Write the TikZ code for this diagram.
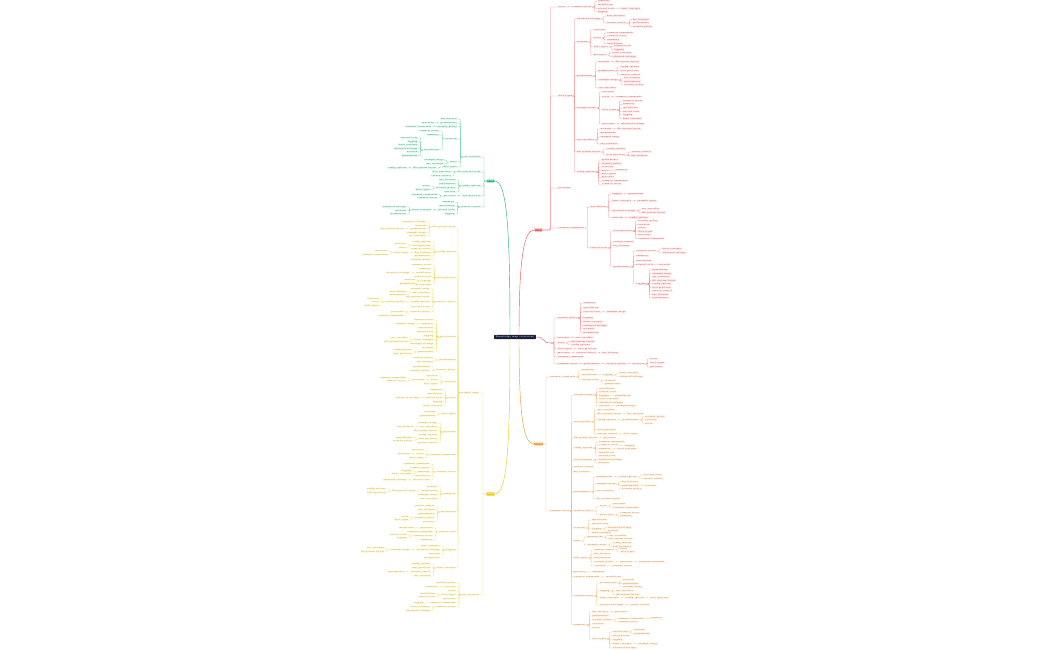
\documentclass[tikz,border=0pt]{standalone}
\usetikzlibrary{calc}

\definecolor{mmnavy}{HTML}{1B1F3B}
\definecolor{mmred}{HTML}{F0555A}
\definecolor{mmorange}{HTML}{F39C38}
\definecolor{mmyellow}{HTML}{EEC916}
\definecolor{mmgreen}{HTML}{22B878}

\newcounter{wd}
\newcommand{\wordpick}{%
  \pgfmathtruncatemacro\wdi{mod(\the\value{wd}*7,23)}%
  \ifcase\wdi overview\or basic concepts\or key features\or
  installation\or config options\or common commands\or example usage\or
  notes\or advanced settings\or performance\or related tools\or
  best practices\or common errors\or env variables\or
  data types\or network\or security policy\or logging\or version control\or
  summary\or file system layout\or processes\or
  permissions\fi}

% children to the right / to the left of a node
\newcommand{\rk}[3][5]{%
  \foreach \yy [count=\ii] in {#3} {%
    \stepcounter{wd}%
    \node[leaf=\bc, anchor=west] (#2-\ii) at ($(#2.east |- 0,\yy)+(#1,0)$) {\wordpick};
    \draw[link=\bc] (#2.east) -- ++({#1/2},0) |- (#2-\ii.west);
  }}
\newcommand{\lk}[3][5]{%
  \foreach \yy [count=\ii] in {#3} {%
    \stepcounter{wd}%
    \node[leaf=\bc, anchor=east] (#2-\ii) at ($(#2.west |- 0,\yy)+(-#1,0)$) {\wordpick};
    \draw[link=\bc] (#2.west) -- ++({-#1/2},0) |- (#2-\ii.east);
  }}

\tikzset{
  leaf/.style={fill=#1!12, text=#1!75!black, font=\fontsize{2.2}{2.6}\selectfont,
    inner xsep=0.6pt, inner ysep=0.4pt, rounded corners=0.4pt},
  link/.style={draw=#1!70, line width=0.25pt, rounded corners=0.8pt},
  trunk/.style={draw=#1, line width=0.45pt},
  badge/.style={fill=#1, text=white, font=\fontsize{2}{2.4}\selectfont\bfseries,
    inner xsep=0.8pt, inner ysep=0.6pt, rounded corners=0.4pt},
  rootbox/.style={fill=mmnavy, text=white, font=\fontsize{2.4}{2.8}\selectfont,
    inner xsep=1.5pt, inner ysep=1pt, rounded corners=0.6pt}
}

\begin{document}
\begin{tikzpicture}[x=1pt,y=-1pt]
\useasboundingbox (0,0) rectangle (1050,650);

\node[rootbox] (root) at (515,337) {Knowledge map (overview)};
\node[badge=mmgreen] (G) at (490.5,181) {Base};
\node[badge=mmred] (R) at (538.5,230) {Core};
\node[badge=mmorange] (O) at (538.5,444) {Tools};
\node[badge=mmyellow] (Y) at (490.5,494) {Apps};
\coordinate (Q) at (551,343);

\draw[trunk=mmgreen] ([xshift=-5pt]root.north) .. controls +(0,-110) and +(12,0) .. (G.east);
\draw[trunk=mmred] ([xshift=4pt]root.north) .. controls +(0,-80) and +(-10,0) .. (R.west);
\draw[trunk=mmorange] ([xshift=4pt]root.south) .. controls +(0,80) and +(-10,0) .. (O.west);
\draw[trunk=mmyellow] ([xshift=-5pt]root.south) .. controls +(0,110) and +(12,0) .. (Y.east);
\draw[trunk=mmred] (root.east) .. controls +(10,0) and +(-10,0) .. (Q);

% red
\def\bc{mmred}
\rk[15]{R}{7,96,188,228}
\rk{R-1}{7}
\rk{R-1-1}{1.5,5,8.5,12}
\rk{R-1-1-3}{8.5}
\rk[3]{R-2}{19,42,76,108,140,152,172}
\rk{R-2-1}{16,23}
\rk{R-2-1-2}{19.5,23,26.5}
\rk{R-2-2}{30,38,47,55}
\rk{R-2-2-2}{33,36.5,40,43.5}
\rk{R-2-2-3}{46,49.5}
\rk{R-2-2-4}{53,56.5}
\rk{R-2-3}{62,71,80,88}
\rk{R-2-3-1}{62}
\rk{R-2-3-2}{67,71,75}
\rk{R-2-3-3}{78,81.5,85}
\rk{R-2-4}{92,97,110,124}
\rk{R-2-4-2}{97}
\rk{R-2-4-3}{101,104.5,108,111.5,115,118.5}
\rk{R-2-4-4}{124}
\rk{R-2-5}{129,133,137,144}
\rk{R-2-5-1}{129}
\rk{R-2-6}{149,155}
\rk{R-2-6-2}{152,155.5}
\rk{R-2-7}{160,163.5,167,170.5,174,177.5,181,184.5}
\rk{R-2-7-4}{170.5}
\rk{R-4}{207,248}
\rk{R-4-1}{194,201,211,217.5}
\rk{R-4-1-1}{194}
\rk{R-4-1-2}{201}
\rk{R-4-1-3}{209,212.5}
\rk{R-4-1-4}{217.5}
\rk{R-4-2}{231,242,246,267}
\rk{R-4-2-1}{221,224.5,228,231.5,235,238.5}
\rk{R-4-2-4}{251,256,261,264.5,284}
\rk{R-4-2-4-1}{249,253}
\rk{R-4-2-4-4}{264.5}
\rk{R-4-2-4-5}{270,273.5,277,280.5,284,287.5,291,294.5,298}

\rk[6]{Q}{318,337.5,343,349,353,357,364}
\rk{Q-1}{303,308,312,318,322,325.5,329,332.5}
\rk{Q-1-3}{312}
\rk{Q-2}{337.5}
\rk{Q-3}{341.5,345}
\rk{Q-4}{349}
\rk{Q-5}{353}
\rk{Q-5-1}{353}
\rk{Q-7}{364}
\rk{Q-7-1}{364}
\rk{Q-7-1-1}{364}
\rk{Q-7-1-1-1}{359,363,367}

% orange
\def\bc{mmorange}
\rk[6]{O}{377,511}
\rk{O-1}{370,375,380}
\rk{O-1-2}{375}
\rk{O-1-2-1}{373,376.5}
\rk{O-1-3}{380.5,384}
\rk[3]{O-2}{395,422,438,448,460,467,472,492,511,528,541,558,572,577,596,625}
\rk{O-2-1}{388.5,392,395.5,399,402.5,406}
\rk{O-2-1-3}{395.5}
\rk{O-2-1-6}{406}
\rk{O-2-2}{410,414,420,430,434}
\rk{O-2-2-2}{414}
\rk{O-2-2-3}{420}
\rk{O-2-2-3-1}{416.5,420,423.5}
\rk{O-2-2-5}{434}
\rk{O-2-3}{438}
\rk{O-2-4}{442,445.5,449,452.5,456}
\rk{O-2-4-2}{445.5}
\rk{O-2-4-3}{449}
\rk{O-2-5}{459.5,463}
\rk{O-2-8}{477,484,491,499}
\rk{O-2-8-1}{477}
\rk{O-2-8-1-1}{475,478.5}
\rk{O-2-8-2}{482,485.5,489}
\rk{O-2-8-2-2}{485.5}
\rk{O-2-9}{506,515}
\rk{O-2-9-1}{504,507.5}
\rk{O-2-9-2}{513,516.5}
\rk{O-2-10}{520,524,529,533}
\rk{O-2-10-3}{527.5,531}
\rk{O-2-11}{537,545}
\rk{O-2-11-1}{535.5,539}
\rk{O-2-11-2}{543,546.5}
\rk{O-2-12}{550,554,558,562,566}
\rk{O-2-12-1}{548.5,552}
\rk{O-2-12-4}{562}
\rk{O-2-12-4-1}{562}
\rk{O-2-12-5}{566}
\rk{O-2-13}{572}
\rk{O-2-14}{577}
\rk{O-2-15}{583,591,598,605}
\rk{O-2-15-1}{580,583.5,587}
\rk{O-2-15-2}{591,594.5}
\rk{O-2-15-3}{598}
\rk{O-2-15-3-1}{598}
\rk{O-2-15-4}{605}
\rk{O-2-16}{612,616,620,624,628,639}
\rk{O-2-16-1}{612}
\rk{O-2-16-3}{618.5,622}
\rk{O-2-16-3-1}{618.5}
\rk{O-2-16-6}{632,636,640,644,648}
\rk{O-2-16-6-1}{630,633.5}
\rk{O-2-16-6-4}{644}

% green
\def\bc{mmgreen}
\lk[5]{G}{157,172,186,196,207}
\lk{G-1}{119,123,126.5,139,162,167}
\lk{G-1-2}{123}
\lk{G-1-3}{126.5}
\lk{G-1-4}{131,135,150}
\lk{G-1-4-3}{138,141.5,145,148.5,152,155.5}
\lk{G-1-5}{160,164}
\lk{G-1-6}{168}
\lk{G-1-6-1}{168}
\lk{G-2}{172,176}
\lk{G-3}{180,184,188,192}
\lk{G-3-3}{186,189.5}
\lk{G-4}{196}
\lk{G-4-1}{194.5,198}
\lk{G-5}{202,206,210,214}
\lk{G-5-3}{210}
\lk{G-5-3-1}{207,210.5,214}

% yellow
\def\bc{mmyellow}
\lk[6]{Y}{393,595}
\lk[3]{Y-1}{227,252,278,302,337,360,370,382,398,414,432,455,472,494,512,532,550,568}
\lk{Y-1-1}{222,225.5,229,232.5,236}
\lk{Y-1-1-3}{229}
\lk{Y-1-2}{242,245.5,249,252.5,256,259.5}
\lk{Y-1-2-2}{244,247.5}
\lk{Y-1-2-4}{252.5}
\lk{Y-1-2-4-1}{251,254.5}
\lk{Y-1-3}{265,269,273,277,281,285}
\lk{Y-1-3-3}{273}
\lk{Y-1-3-5}{280,283.5}
\lk{Y-1-4}{289,293,297,302,307,312}
\lk{Y-1-4-2}{291.5,295}
\lk{Y-1-4-4}{302}
\lk{Y-1-4-4-1}{298.5,302,305.5}
\lk{Y-1-4-6}{312,315.5}
\lk{Y-1-5}{320,324,328,332,336,340,344,348,352}
\lk{Y-1-5-2}{324}
\lk{Y-1-5-6}{338,341.5}
\lk{Y-1-5-9}{350,353.5}
\lk{Y-1-6}{358,362}
\lk{Y-1-7}{366.5,370.5}
\lk{Y-1-8}{376,380,384}
\lk{Y-1-8-2}{380}
\lk{Y-1-8-2-1}{378,381.5}
\lk{Y-1-9}{390,394,398,402,406}
\lk{Y-1-9-3}{398}
\lk{Y-1-10}{412,416}
\lk{Y-1-11}{423,427,431,435,439,443}
\lk{Y-1-11-2}{427}
\lk{Y-1-11-5}{437.5,441}
\lk{Y-1-12}{450,454,458}
\lk{Y-1-12-2}{454}
\lk{Y-1-13}{464,468,472,476,480}
\lk{Y-1-13-3}{470.5,474}
\lk{Y-1-13-5}{480}
\lk{Y-1-14}{487,491,495,499}
\lk{Y-1-14-2}{491}
\lk{Y-1-14-2-1}{489,492.5}
\lk{Y-1-15}{506,510,514,518,522}
\lk{Y-1-15-4}{516.5,520}
\lk{Y-1-16}{528,532,536,540}
\lk{Y-1-16-1}{528}
\lk{Y-1-16-3}{534.5,538}
\lk{Y-1-17}{546,550,554,558}
\lk{Y-1-17-2}{550}
\lk{Y-1-17-2-1}{548,551.5}
\lk{Y-1-18}{564,568,572,576}
\lk{Y-1-18-3}{572}
\lk{Y-2}{583,587,591,595,599,603,607}
\lk{Y-2-2}{587}
\lk{Y-2-4}{593.5,597}
\lk{Y-2-6}{603}
\lk{Y-2-7}{607,610.5}
\end{tikzpicture}
\end{document}
